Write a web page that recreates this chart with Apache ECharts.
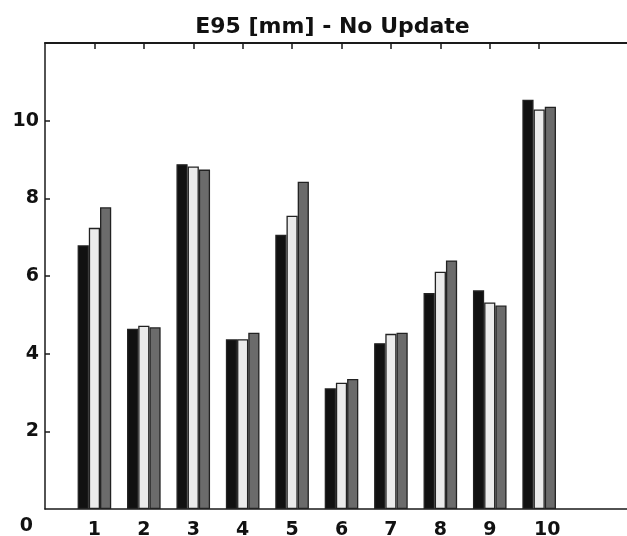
<!DOCTYPE html>
<html>
<head>
<meta charset="utf-8">
<script src="https://cdn.jsdelivr.net/npm/echarts@6/dist/echarts.min.js"></script>
<style>
  html, body { margin: 0; padding: 0; background: #fff; }
  #chart { width: 627px; height: 536px; }
</style>
</head>
<body>
<div id="chart"></div>
<script>
// Sites 1..10 and three E95 error estimates per site (mm)
const categories = [1, 2, 3, 4, 5, 6, 7, 8, 9, 10];
const seriesA = [6.79, 4.64, 8.88, 4.37, 7.06, 3.11, 4.27, 5.56, 5.63, 10.54];
const seriesB = [7.24, 4.72, 8.82, 4.37, 7.55, 3.25, 4.51, 6.11, 5.32, 10.29];
const seriesC = [7.77, 4.68, 8.74, 4.54, 8.43, 3.35, 4.54, 6.40, 5.24, 10.36];
const yTicks = [0, 2, 4, 6, 8, 10];
const titleText = 'E95 [mm] - No Update';

const font = 'DejaVu Sans';
const frameColor = '#1a1a1a';

function pairs(vals) {
  return categories.map((c, i) => [c, vals[i]]);
}

function barSeries(name, vals, color) {
  return {
    name: name,
    type: 'bar',
    data: pairs(vals),
    barWidth: 11.2,
    barGap: '0%',
    itemStyle: { color: color, borderColor: '#222222', borderWidth: 1.3 },
    emphasis: { disabled: true },
    animation: false
  };
}

const chart = echarts.init(document.getElementById('chart'), null, { renderer: 'canvas' });

chart.setOption({
  backgroundColor: '#ffffff',
  animation: false,
  title: {
    text: titleText,
    left: 327.5,
    top: 11,
    textAlign: 'center',
    textStyle: { fontFamily: font, fontWeight: 'bold', fontSize: 22, color: '#111' }
  },
  grid: {
    left: 45,
    top: 43,
    width: 593,
    height: 466,
    containLabel: false,
    outerBoundsMode: 'none'
  },
  xAxis: [
    {
      type: 'value',
      min: 0,
      max: 12,
      position: 'bottom',
      splitLine: { show: false },
      axisLine: { show: true, lineStyle: { color: frameColor, width: 1.5 } },
      axisTick: { show: false },
      axisLabel: {
        customValues: categories,
        margin: 12,
        fontFamily: font,
        fontWeight: 'bold',
        fontSize: 19,
        color: '#111',
        formatter: v => (v === 10 ? '{t|10}' : String(v)),
        rich: {
          t: {
            fontFamily: font,
            fontWeight: 'bold',
            fontSize: 19,
            color: '#111',
            padding: [0, 0, 0, 16]
          }
        }
      }
    },
    {
      type: 'value',
      min: 0,
      max: 12,
      position: 'top',
      splitLine: { show: false },
      axisLine: { show: true, lineStyle: { color: frameColor, width: 2 } },
      axisTick: {
        show: true,
        inside: true,
        length: 6,
        customValues: categories,
        lineStyle: { color: frameColor, width: 1.5 }
      },
      axisLabel: { show: false }
    }
  ],
  yAxis: {
    type: 'value',
    min: 0,
    max: 12,
    interval: 2,
    splitLine: { show: false },
    axisLine: { show: true, lineStyle: { color: frameColor, width: 1.5 } },
    axisTick: {
      show: true,
      inside: true,
      length: 5,
      customValues: yTicks.filter(v => v > 0),
      lineStyle: { color: frameColor, width: 1.5 }
    },
    axisLabel: {
      customValues: yTicks,
      margin: 6,
      fontFamily: font,
      fontWeight: 'bold',
      fontSize: 19,
      color: '#111',
      formatter: v => (v === 0 ? '{z|0}' : String(v)),
      rich: {
        z: {
          fontFamily: font,
          fontWeight: 'bold',
          fontSize: 19,
          color: '#111',
          padding: [35, 6, 0, 0]
        }
      }
    }
  },
  series: [
    barSeries('A', seriesA, '#111111'),
    barSeries('B', seriesB, '#ebebeb'),
    barSeries('C', seriesC, '#6b6b6b')
  ]
});
</script>
</body>
</html>
